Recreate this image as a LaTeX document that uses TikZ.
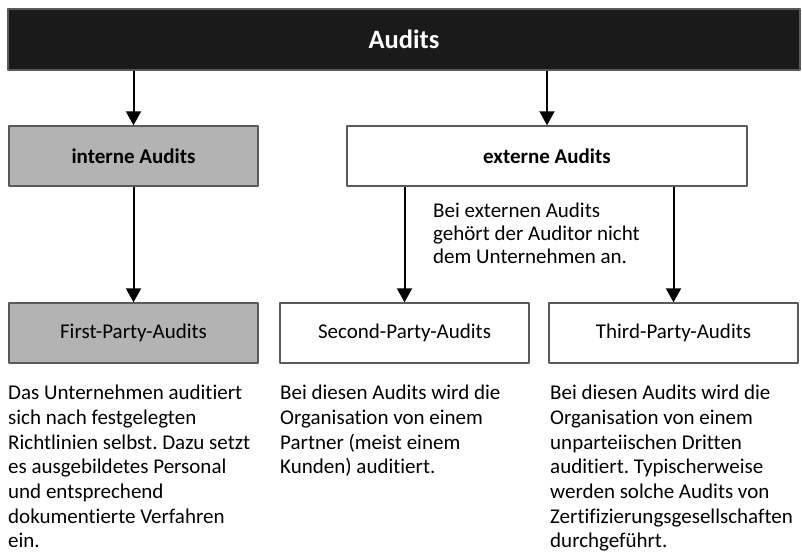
\documentclass[tikz,border=0pt]{standalone}
\usepackage{fontspec}
\setmainfont{Carlito}[Ligatures=NoCommon]
\frenchspacing
\usetikzlibrary{arrows.meta}
\definecolor{bargrey}{HTML}{1A1A1A}
\definecolor{boxgrey}{HTML}{B3B3B3}
\definecolor{framegrey}{HTML}{5A5A5A}
\begin{document}
\begin{tikzpicture}[x=1pt, y=-1pt, line join=round, >={Triangle[length=14pt, width=15pt]},
		box/.style={draw=framegrey, line width=1.4pt, minimum width=249pt, minimum height=60pt, inner sep=0pt, font=\fontsize{21}{25}\selectfont},
		greybox/.style={box, fill=boxgrey},
		txt/.style={anchor=north west, align=left, inner sep=0pt, font=\fontsize{21}{24.7}\selectfont},
		link/.style={->, line width=2pt}]
	\useasboundingbox (0,0) rectangle (802,556);
	\fill[white] (0,0) rectangle (802,556);
	% boxes
	\node[box, fill=bargrey, minimum width=792pt, minimum height=61pt, text=white, font=\fontsize{26.5}{31}\selectfont\bfseries] (audits) at (404,39.5) {Audits};
	\node[greybox, font=\fontsize{21}{25}\selectfont\bfseries] (intern) at (133.5,156) {interne Audits};
	\node[box, fill=white, minimum width=400pt, font=\fontsize{21}{25}\selectfont\bfseries] (extern) at (547,156) {externe Audits};
	\node[greybox] (first) at (133.5,333) {First-Party-Audits};
	\node[box] (second) at (404.5,333) {Second-Party-Audits};
	\node[box] (third) at (673.5,333) {Third-Party-Audits};
	% arrows
	\draw[link] (audits.south -| intern.north) -- (intern.north);
	\draw[link] (audits.south -| extern.north) -- (extern.north);
	\draw[link] (intern.south) -- (first.north);
	\draw[link] (extern.south -| second.north) -- (second.north);
	\draw[link] (extern.south -| third.north) -- (third.north);
	% texts
	\node[txt, font=\fontsize{21}{23}\selectfont] (note) at (433,203) {Bei externen Audits\\gehört der Auditor nicht\\dem Unternehmen an.};
	\node[txt] (firsttxt) at (8,385) {Das Unternehmen auditiert\\sich nach festgelegten\\Richtlinien selbst. Dazu setzt\\es ausgebildetes Personal\\und entsprechend\\dokumentierte Verfahren\\ein.};
	\node[txt] (secondtxt) at (280,385) {Bei diesen Audits wird die\\Organisation von einem\\Partner (meist einem\\Kunden) auditiert.};
	\node[txt] (thirdtxt) at (550,385) {Bei diesen Audits wird die\\Organisation von einem\\unparteiischen Dritten\\auditiert. Typischerweise\\werden solche Audits von\\Zertifizierungsgesellschaften\\durchgeführt.};
\end{tikzpicture}
\end{document}
